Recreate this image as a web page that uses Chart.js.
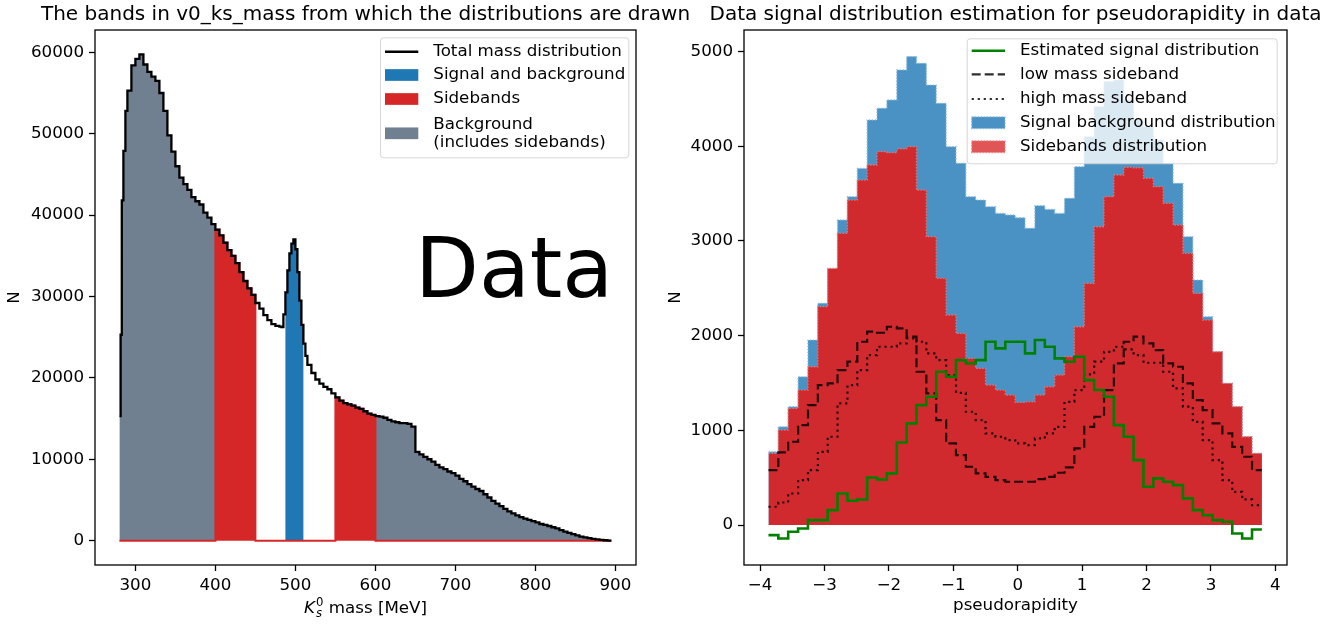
<!DOCTYPE html>
<html>
<head>
<meta charset="utf-8">
<script src="https://cdn.jsdelivr.net/npm/chart.js@4.4.1/dist/chart.umd.min.js"></script>
<style>
html,body{margin:0;padding:0;background:#fff;}
#wrap{position:relative;width:1342px;height:624px;overflow:hidden;background:#fff;}
#wrap canvas{position:absolute;top:0;}
</style>
</head>
<body>
<div id="wrap">
<canvas id="left" width="720" height="624" style="left:0px;width:720px;height:624px"></canvas>
<canvas id="right" width="678" height="624" style="left:664px;width:678px;height:624px"></canvas>
</div>
<script>
// ---------------- LEFT PANEL DATA (K0s mass histogram) ----------------
const massEdges = [280, 281.5, 283, 285, 287.5, 290, 295, 300, 305, 310, 315, 320, 325, 330, 335, 340, 345, 350, 355, 360, 365, 370, 375, 380, 385, 390, 395, 400, 405, 410, 415, 420, 425, 430, 435, 440, 445, 450, 455, 460, 465, 470, 475, 480, 482.5, 485, 487.5, 490, 492.5, 495, 497.5, 500, 502.5, 505, 507.5, 510, 512.5, 515, 520, 525, 530, 535, 540, 545, 550, 555, 560, 565, 570, 575, 580, 585, 590, 595, 600, 605, 610, 615, 620, 625, 630, 635, 640, 645, 650, 655, 660, 665, 670, 675, 680, 685, 690, 695, 700, 705, 710, 715, 720, 725, 730, 735, 740, 745, 750, 755, 760, 765, 770, 775, 780, 785, 790, 795, 800, 805, 810, 815, 820, 825, 830, 835, 840, 845, 850, 855, 860, 865, 870, 875, 880, 885, 890, 895];
const massCounts = [15300, 25300, 41800, 47900, 52800,
  55300, 58400, 59200, 59750, 58500, 57600, 57000, 56500, 55000, 52800, 49800, 47800, 46000, 44600, 43800, 43100, 42200, 41700, 41300, 40300, 39700, 38900, 38200, 37500, 36600, 35700, 35000, 34100, 33000, 31900, 31000, 30200, 29200, 28500, 27700, 27100, 26600, 26400,
  26300, 26250, 27800, 30500, 33200, 35300, 36500, 37000, 35800, 33000, 29500, 26500, 24200, 22700,
  21600, 20600, 19800, 19300, 18900, 18600, 18100,
  17600, 17200, 16900, 16750, 16600, 16350, 16200, 15900, 15600, 15450, 15300, 15250, 15100, 14850, 14650, 14550, 14450, 14450, 14350, 14000,
  10900, 10600, 10300, 10000, 9700, 9300, 9000, 8800, 8500, 8300, 8000, 7600, 7300, 6950, 6650, 6350, 6100, 5700, 5300, 4900,
  4550, 4250, 3900, 3600, 3350, 3100, 2900, 2700, 2550, 2400, 2250, 2050, 1930, 1800, 1650, 1500, 1300, 1100, 950, 800,
  650, 500, 400, 310, 230, 160, 100, 50, 15];
const backgroundBands = [[280, 400], [600, 895]];
const sidebandBands = [[400, 450], [550, 600]];
const signalBands = [[487.5, 510]];
const massTicks = [300, 400, 500, 600, 700, 800, 900];
const countTicksLeft = [0, 10000, 20000, 30000, 40000, 50000, 60000];

// ---------------- RIGHT PANEL DATA (pseudorapidity) ----------------
const etaEdges = [-3.870, -3.717, -3.564, -3.410, -3.257, -3.104, -2.951, -2.798, -2.644, -2.491, -2.338, -2.185, -2.032, -1.878, -1.725, -1.572, -1.419, -1.266, -1.112, -0.959, -0.806, -0.653, -0.500, -0.346, -0.193, -0.040, 0.113, 0.266, 0.420, 0.573, 0.726, 0.879, 1.032, 1.186, 1.339, 1.492, 1.645, 1.798, 1.952, 2.105, 2.258, 2.411, 2.564, 2.718, 2.871, 3.024, 3.177, 3.330, 3.484, 3.637, 3.790];
const signalBkg = [774, 1038, 1250, 1566, 1954, 2341, 2693, 3221, 3467, 3766, 4277, 4400, 4488, 4805, 4946, 4875, 4646, 4453, 3995, 3819, 3467, 3432, 3362, 3291, 3274, 3245, 3133, 3372, 3333, 3291, 3450, 3784, 4101, 4418, 4682, 4699, 4488, 4277, 4206, 4066, 3819, 3608, 3045, 2587, 2200, 1830, 1496, 1250, 933, 757];
const sidebands = [757, 1003, 1232, 1426, 1672, 2306, 2710, 3080, 3432, 3643, 3802, 3942, 3932, 3971, 3995, 3538, 3045, 2605, 2218, 2024, 1760, 1654, 1478, 1426, 1373, 1295, 1302, 1373, 1461, 1584, 1778, 2094, 2552, 3150, 3467, 3696, 3777, 3773, 3661, 3573, 3397, 3168, 2869, 2446, 2165, 1830, 1496, 1250, 933, 757];
const lowMassSB = [581, 767, 880, 1056, 1267, 1478, 1496, 1637, 1725, 1936, 2042, 2031, 2094, 2077, 1989, 1619, 1390, 1109, 862, 739, 616, 546, 510, 475, 458, 458, 458, 486, 510, 553, 609, 810, 1038, 1144, 1426, 1707, 1936, 1989, 1918, 1848, 1707, 1672, 1496, 1320, 1214, 1074, 968, 827, 722, 581];
const highMassSB = [194, 239, 334, 475, 581, 774, 933, 1285, 1478, 1637, 1795, 1883, 1883, 1918, 1971, 1936, 1813, 1742, 1584, 1397, 1197, 1109, 968, 933, 898, 862, 845, 915, 968, 1038, 1302, 1426, 1591, 1725, 1830, 1883, 1855, 1795, 1714, 1714, 1619, 1443, 1250, 1091, 898, 686, 475, 352, 271, 211];
const estSignal = [-106, -141, -70, -35, 53, 53, 158, 334, 257, 271, 503, 482, 546, 873, 1074, 1267, 1355, 1619, 1566, 1742, 1707, 1742, 1936, 1866, 1936, 1936, 1813, 1954, 1883, 1760, 1725, 1778, 1531, 1426, 1355, 1056, 933, 686, 405, 493, 458, 422, 282, 158, 106, 53, 35, -88, -141, -46];
const etaTicks = [-4, -3, -2, -1, 0, 1, 2, 3, 4];
const countTicksRight = [0, 1000, 2000, 3000, 4000, 5000];

// ---------------- helpers ----------------
const FONT = '"DejaVu Sans", "Liberation Sans", sans-serif';
const FS = 16.7;
Chart.defaults.font.family = FONT;
Chart.defaults.font.size = FS;
Chart.defaults.color = '#000';

function histPoints(edges, counts, bands) {
  const keep = i => !bands || bands.some(b => edges[i] >= b[0] - 1e-9 && edges[i + 1] <= b[1] + 1e-9);
  const pts = counts.map((c, i) => ({x: edges[i], y: keep(i) ? c : 0}));
  pts.push({x: edges[edges.length - 1], y: pts[pts.length - 1].y});
  return pts;
}
function fmt(v) { return v < 0 ? '\u2212' + Math.abs(v) : String(v); }
function mkScale(pos, min, max, tickVals, size, title) {
  return {
    type: 'linear', position: pos, min: min, max: max,
    afterBuildTicks: s => { s.ticks = tickVals.map(v => ({value: v})); },
    afterFit: s => { if (pos === 'left') s.width = size; else s.height = size; },
    border: {display: false},
    grid: {display: true, drawOnChartArea: false, drawTicks: true, tickLength: 6, tickWidth: 1.3, tickColor: '#000', color: '#000'},
    ticks: {autoSkip: false, maxRotation: 0, minRotation: 0, padding: 5, color: '#000', font: {size: FS}, callback: v => fmt(v)},
    title: title || {display: false}
  };
}
function roundRectPath(ctx, x, y, w, h, r) {
  ctx.beginPath();
  ctx.moveTo(x + r, y); ctx.lineTo(x + w - r, y); ctx.quadraticCurveTo(x + w, y, x + w, y + r);
  ctx.lineTo(x + w, y + h - r); ctx.quadraticCurveTo(x + w, y + h, x + w - r, y + h);
  ctx.lineTo(x + r, y + h); ctx.quadraticCurveTo(x, y + h, x, y + h - r);
  ctx.lineTo(x, y + r); ctx.quadraticCurveTo(x, y, x + r, y); ctx.closePath();
}
function drawLegend(ctx, box, items) {
  roundRectPath(ctx, box.x + 0.5, box.y + 0.5, box.w, box.h, 3);
  ctx.fillStyle = 'rgba(255,255,255,0.8)'; ctx.fill();
  ctx.strokeStyle = 'rgba(204,204,204,0.8)'; ctx.lineWidth = 1; ctx.stroke();
  ctx.font = FS + 'px ' + FONT; ctx.textAlign = 'left'; ctx.textBaseline = 'middle';
  items.forEach(it => {
    if (it.kind === 'line') {
      ctx.beginPath(); ctx.setLineDash(it.dash || []); ctx.strokeStyle = it.color; ctx.lineWidth = it.lw;
      ctx.moveTo(box.hx, it.y); ctx.lineTo(box.hx + 33.3, it.y); ctx.stroke(); ctx.setLineDash([]);
    } else {
      const py = it.py !== undefined ? it.py : it.y;
      ctx.fillStyle = it.color; ctx.fillRect(box.hx, py - 5.85, 33.3, 11.7);
      if (it.edge) {
        ctx.setLineDash([1.5, 1.5]); ctx.strokeStyle = it.edge; ctx.lineWidth = 1.2;
        ctx.strokeRect(box.hx, py - 5.85, 33.3, 11.7); ctx.setLineDash([]);
      }
    }
    ctx.fillStyle = '#000';
    const lines = Array.isArray(it.text) ? it.text : [it.text];
    lines.forEach((t, j) => ctx.fillText(t, box.tx, it.ty ? it.ty[j] : it.y));
  });
}
function spines(ctx, a) {
  ctx.strokeStyle = '#000'; ctx.lineWidth = 1.3;
  ctx.strokeRect(a.left, a.top, a.right - a.left, a.bottom - a.top);
}
function title(ctx, a, text) {
  ctx.font = '20px ' + FONT; ctx.fillStyle = '#000'; ctx.textAlign = 'center'; ctx.textBaseline = 'alphabetic';
  ctx.fillText(text, (a.left + a.right) / 2, 20);
}

// ---------------- LEFT CHART ----------------
const RED = '#d62728', BLUE = '#1f77b4', GREY = '#708090';
new Chart(document.getElementById('left'), {
  type: 'line',
  data: {datasets: [
    {label: 'Total mass distribution', data: histPoints(massEdges, massCounts), stepped: true, borderColor: '#000', borderWidth: 2.3, pointRadius: 0, fill: false, order: 0},
    {label: 'Sidebands', data: histPoints(massEdges, massCounts, sidebandBands), stepped: true, borderColor: RED, borderWidth: 2, backgroundColor: RED, fill: 'origin', pointRadius: 0, order: 1},
    {label: 'Signal and background', data: histPoints(massEdges, massCounts, signalBands), stepped: true, borderColor: 'rgba(0,0,0,0)', borderWidth: 0, backgroundColor: BLUE, fill: 'origin', pointRadius: 0, order: 2},
    {label: 'Background (includes sidebands)', data: histPoints(massEdges, massCounts, backgroundBands), stepped: true, borderColor: 'rgba(0,0,0,0)', borderWidth: 0, backgroundColor: GREY, fill: 'origin', pointRadius: 0, order: 3}
  ]},
  options: {
    responsive: false, animation: false, events: [],
    layout: {padding: {left: 0, top: 30, right: 84, bottom: 0}},
    plugins: {legend: {display: false}, tooltip: {enabled: false}},
    scales: {
      x: mkScale('bottom', 249.5, 925.75, massTicks, 59),
      y: mkScale('left', -2990, 62740, countTicksLeft, 95, {display: true, text: 'N', padding: {top: 5, bottom: 0}, font: {size: FS}})
    }
  },
  plugins: [{
    id: 'decoLeft',
    afterDraw(chart) {
      const ctx = chart.ctx, a = chart.chartArea;
      ctx.save();
      spines(ctx, a);
      title(ctx, a, 'The bands in v0_ks_mass from which the distributions are drawn');
      ctx.font = '83px ' + FONT; ctx.textAlign = 'left'; ctx.textBaseline = 'alphabetic'; ctx.fillStyle = '#000';
      ctx.fillText('Data', 415, 297);
      const base = 613, cx = (a.left + a.right) / 2;
      const fI = 'italic ' + FS + 'px ' + FONT, fN = FS + 'px ' + FONT, fSI = 'italic 11.7px ' + FONT, fS = '11.7px ' + FONT;
      ctx.font = fI; const wK = ctx.measureText('K').width;
      ctx.font = fSI; const wS = ctx.measureText('s').width;
      ctx.font = fS; const w0 = ctx.measureText('0').width;
      ctx.font = fN; const wR = ctx.measureText(' mass [MeV]').width;
      const wScr = Math.max(wS, w0);
      let x = cx - (wK + 1 + wScr + wR) / 2;
      ctx.font = fI; ctx.fillText('K', x, base); x += wK + 1;
      ctx.font = fSI; ctx.fillText('s', x, base + 3.5);
      ctx.font = fS; ctx.fillText('0', x, base - 7.5); x += wScr;
      ctx.font = fN; ctx.fillText(' mass [MeV]', x, base);
      drawLegend(ctx, {x: 380, y: 37.3, w: 248.3, h: 120, hx: 385, tx: 433.3}, [
        {kind: 'line', color: '#000', lw: 2.5, y: 51.7, text: 'Total mass distribution'},
        {kind: 'patch', color: BLUE, y: 75, text: 'Signal and background'},
        {kind: 'patch', color: RED, y: 99, text: 'Sidebands'},
        {kind: 'patch', color: GREY, py: 133.3, text: ['Background', '(includes sidebands)'], ty: [124.3, 142.3]}
      ]);
      ctx.restore();
    }
  }]
});

// ---------------- RIGHT CHART ----------------
const FILL_BLUE = 'rgb(75,146,196)', FILL_RED = 'rgb(209,42,46)';
new Chart(document.getElementById('right'), {
  type: 'line',
  data: {datasets: [
    {label: 'Estimated signal distribution', data: histPoints(etaEdges, estSignal), stepped: true, borderColor: '#008000', borderWidth: 2.6, pointRadius: 0, fill: false, order: 0},
    {label: 'low mass sideband', data: histPoints(etaEdges, lowMassSB), stepped: true, borderColor: 'rgba(0,0,0,0.82)', borderWidth: 2.2, borderDash: [9, 4], pointRadius: 0, fill: false, order: 1},
    {label: 'high mass sideband', data: histPoints(etaEdges, highMassSB), stepped: true, borderColor: 'rgba(0,0,0,0.82)', borderWidth: 2.2, borderDash: [2.2, 3.8], pointRadius: 0, fill: false, order: 2},
    {label: 'Sidebands distribution', data: histPoints(etaEdges, sidebands), stepped: true, borderColor: 'rgba(230,120,120,0.9)', borderWidth: 1.3, borderDash: [1.5, 1.5], backgroundColor: FILL_RED, fill: 'origin', pointRadius: 0, order: 3},
    {label: 'Signal background distribution', data: histPoints(etaEdges, signalBkg), stepped: true, borderColor: 'rgba(140,185,220,0.9)', borderWidth: 1.3, borderDash: [1.5, 1.5], backgroundColor: FILL_BLUE, fill: 'origin', pointRadius: 0, order: 4}
  ]},
  options: {
    responsive: false, animation: false, events: [],
    layout: {padding: {left: 0, top: 30, right: 55, bottom: 0}},
    plugins: {legend: {display: false}, tooltip: {enabled: false}},
    scales: {
      x: mkScale('bottom', -4.25, 4.18, etaTicks, 59, {display: true, text: 'pseudorapidity', padding: {top: 0, bottom: 8}, font: {size: FS}}),
      y: mkScale('left', -421, 5227, countTicksRight, 80, {display: true, text: 'N', padding: {top: 2, bottom: 0}, font: {size: FS}})
    }
  },
  plugins: [{
    id: 'decoRight',
    afterDraw(chart) {
      const ctx = chart.ctx, a = chart.chartArea;
      ctx.save();
      spines(ctx, a);
      title(ctx, a, 'Data signal distribution estimation for pseudorapidity in data');
      drawLegend(ctx, {x: 302.7, y: 38.3, w: 310, h: 125, hx: 307.7, tx: 356}, [
        {kind: 'line', color: '#008000', lw: 2.6, y: 50.7, text: 'Estimated signal distribution'},
        {kind: 'line', color: 'rgba(0,0,0,0.82)', lw: 2.2, dash: [9, 4], y: 74.3, text: 'low mass sideband'},
        {kind: 'line', color: 'rgba(0,0,0,0.82)', lw: 2.2, dash: [2.2, 3.8], y: 99, text: 'high mass sideband'},
        {kind: 'patch', color: FILL_BLUE, edge: 'rgba(140,185,220,0.9)', y: 122.7, text: 'Signal background distribution'},
        {kind: 'patch', color: 'rgb(224,85,86)', edge: 'rgba(235,135,135,0.9)', y: 146.7, text: 'Sidebands distribution'}
      ]);
      ctx.restore();
    }
  }]
});
</script>
</body>
</html>
